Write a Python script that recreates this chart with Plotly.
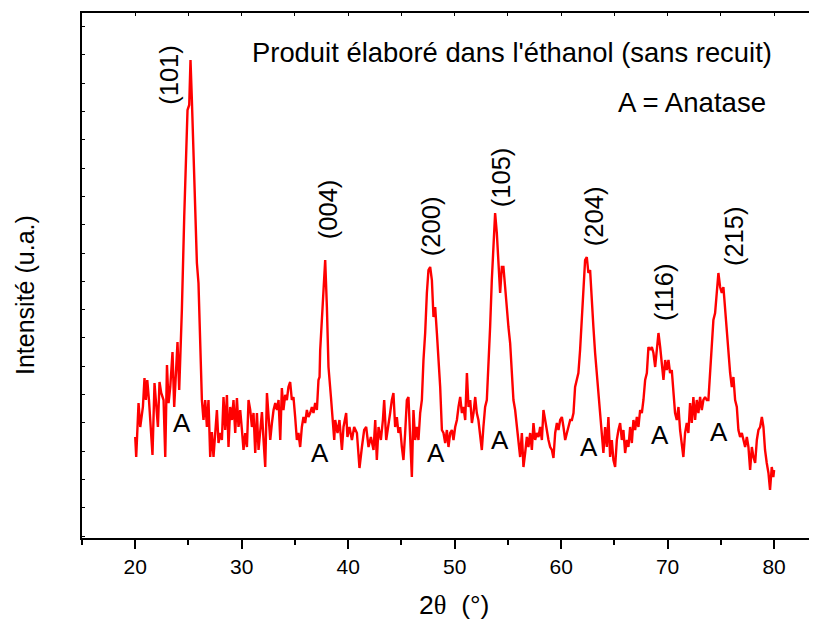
import plotly.graph_objects as go

# 2-theta (degrees) and intensity (arbitrary units)
two_theta = [
    20.00, 20.09, 20.31, 20.47, 20.72, 20.87, 21.00, 21.13, 21.29, 21.47, 21.62, 21.81, 21.97, 22.13, 22.28,
    22.44, 22.66, 22.82, 22.98, 23.13, 23.29, 23.50, 23.66, 23.82, 23.97, 24.13, 24.25,
    24.38, 24.60, 24.79, 24.91, 25.07, 25.19, 25.32, 25.47, 25.63, 25.79, 25.94, 26.10, 26.26, 26.41,
    26.57, 26.73, 26.88, 27.04, 27.20, 27.35, 27.51, 27.67, 27.82, 27.98, 28.14, 28.29, 28.45, 28.61, 28.76,
    28.92, 29.08, 29.23, 29.39, 29.55, 29.70, 29.86, 30.02, 30.17, 30.33, 30.49, 30.64, 30.80, 30.96, 31.11,
    31.27, 31.43, 31.58, 31.74, 31.90, 32.05, 32.21, 32.37, 32.52, 32.68, 32.84, 32.99, 33.15, 33.31, 33.46,
    33.62, 33.77, 33.92, 34.08, 34.24, 34.39, 34.55, 34.71, 34.86, 35.02, 35.18, 35.33, 35.49, 35.65, 35.80,
    35.96, 36.12, 36.27, 36.43, 36.59, 36.74, 36.90, 37.06, 37.21, 37.31, 37.37, 37.53, 37.68, 37.84, 38.00,
    38.15, 38.38, 38.56, 38.69, 38.78, 39.00, 39.18, 39.41, 39.56, 39.81, 39.93, 40.12, 40.35, 40.56, 40.82,
    41.06, 41.29, 41.50, 41.69, 41.91, 42.13, 42.38, 42.54, 42.69, 42.85, 43.07, 43.26, 43.38, 43.57, 43.78,
    43.94, 44.10, 44.25, 44.41, 44.57, 44.72, 44.88, 45.04, 45.19, 45.35, 45.51, 45.66, 45.82, 45.98, 46.13,
    46.29, 46.45, 46.60, 46.76, 46.92, 47.07, 47.23, 47.39, 47.54, 47.70, 47.86, 48.01, 48.17, 48.33, 48.48,
    48.64, 48.80, 48.95, 49.11, 49.27, 49.42, 49.58, 49.74, 49.89, 50.05, 50.21, 50.36, 50.52, 50.68, 50.83,
    50.99, 51.15, 51.30, 51.46, 51.62, 51.77, 51.93, 52.08, 52.23, 52.39, 52.55, 52.70, 52.86, 53.02, 53.17,
    53.33, 53.49, 53.64, 53.80, 53.96, 54.11, 54.27, 54.43, 54.58, 54.74, 54.90, 55.05, 55.21, 55.37, 55.52,
    55.68, 55.84, 55.99, 56.15, 56.31, 56.46, 56.62, 56.78, 56.93, 57.09, 57.25, 57.40, 57.56, 57.72, 57.87,
    58.03, 58.19, 58.34, 58.50, 58.66, 58.81, 58.97, 59.13, 59.28, 59.44, 59.60, 59.75, 59.91, 60.07, 60.22,
    60.38, 60.54, 60.69, 60.85, 61.01, 61.16, 61.31, 61.47, 61.62, 61.78, 61.94, 62.09, 62.25, 62.41, 62.56,
    62.72, 62.88, 63.03, 63.19, 63.35, 63.50, 63.66, 63.82, 63.97, 64.13, 64.29, 64.44, 64.60, 64.76, 64.91,
    65.07, 65.23, 65.38, 65.54, 65.70, 65.85, 66.01, 66.17, 66.32, 66.48, 66.64, 66.79, 66.95, 67.11, 67.26,
    67.42, 67.58, 67.73, 67.89, 68.05, 68.20, 68.36, 68.52, 68.67, 68.83, 68.99, 69.14, 69.30, 69.46, 69.61,
    69.77, 69.92, 70.08, 70.23, 70.39, 70.55, 70.70, 70.86, 71.02, 71.17, 71.33, 71.48, 71.64, 71.80, 71.95,
    72.11, 72.27, 72.42, 72.58, 72.74, 72.89, 73.05, 73.21, 73.36, 73.52, 73.68, 73.83, 73.99, 74.15, 74.30,
    74.46, 74.62, 74.77, 74.93, 75.09, 75.24, 75.40, 75.56, 75.71, 75.87, 76.03, 76.18, 76.34, 76.50, 76.65,
    76.81, 76.97, 77.12, 77.28, 77.44, 77.59, 77.75, 77.91, 78.06, 78.22, 78.38, 78.53, 78.69, 78.85, 79.00,
    79.15, 79.31, 79.47, 79.62, 79.78, 79.93, 80.00,
]
intensity = [
    99, 79, 133, 109, 129, 158, 136, 156, 136, 103, 81, 153, 126, 109, 154,
    143, 136, 79, 171, 133, 149, 184, 129, 169, 194, 146, 183,
    226, 319, 386, 426, 431, 476, 436, 376, 319, 273, 253, 186, 136, 116,
    136, 109, 136, 79, 104, 79, 109, 126, 93, 103, 96, 139, 106, 141, 89,
    129, 116, 136, 103, 138, 109, 126, 106, 86, 103, 89, 136, 126, 109, 123,
    83, 123, 86, 109, 124, 96, 69, 143, 119, 96, 113, 126, 133, 126, 136,
    96, 148, 126, 141, 136, 149, 154, 136, 139, 119, 96, 103, 89, 109, 119,
    113, 126, 119, 123, 129, 123, 133, 126, 156, 159, 186, 216, 246, 276, 229,
    169, 139, 116, 96, 116, 103, 116, 86, 109, 123, 99, 109, 96, 109, 103,
    68, 89, 106, 109, 89, 99, 86, 116, 76, 109, 96, 116, 136, 96, 109,
    123, 136, 143, 109, 119, 103, 109, 89, 76, 103, 136, 139, 103, 59, 126,
    96, 109, 96, 123, 136, 176, 203, 243, 266, 269, 256, 219, 229, 203, 176,
    149, 106, 103, 93, 106, 89, 103, 106, 96, 109, 116, 129, 139, 123, 129,
    116, 163, 129, 136, 113, 123, 139, 123, 116, 103, 86, 109, 129, 136, 169,
    209, 256, 286, 323, 303, 269, 243, 269, 269, 249, 223, 209, 193, 163, 136,
    126, 109, 93, 79, 103, 69, 83, 99, 89, 103, 86, 113, 96, 103, 99,
    109, 96, 126, 116, 103, 96, 89, 86, 78, 103, 113, 106, 116, 119, 109,
    96, 103, 109, 116, 116, 123, 149, 156, 163, 186, 213, 243, 276, 279, 263,
    266, 229, 209, 183, 163, 143, 129, 109, 83, 109, 89, 119, 79, 96, 76,
    69, 96, 106, 113, 96, 106, 83, 96, 89, 109, 93, 116, 106, 119, 109,
    126, 123, 136, 156, 163, 189, 186, 189, 183, 169, 189, 203, 189, 169, 156,
    176, 166, 176, 163, 166, 143, 123, 116, 129, 106, 89, 79, 103, 113, 103,
    133, 113, 139, 116, 136, 123, 139, 126, 136, 139, 136, 136, 166, 189, 216,
    223, 243, 263, 249, 243, 249, 226, 209, 189, 163, 149, 159, 136, 129, 106,
    99, 103, 96, 89, 99, 89, 66, 89, 79, 73, 96, 106, 109, 119, 109,
    86, 73, 63, 46, 69, 59, 66,
]

x_ticks = [20, 30, 40, 50, 60, 70, 80]

peak_labels = ["(101)", "(004)", "(200)", "(105)", "(204)", "(116)", "(215)"]
peak_label_x = [23.15, 38.12, 47.79, 54.37, 63.10, 69.67, 76.24]
peak_label_y = [461, 327, 310, 359, 320, 244, 300]

phase_label_x = [24.38, 37.31, 48.26, 54.27, 62.66, 69.30, 74.84]
phase_label_y = [113, 83, 83, 96, 89, 101, 104]

FONT = "Liberation Sans, Arial, sans-serif"

fig = go.Figure()
fig.add_trace(go.Scatter(
    x=two_theta, y=intensity, mode="lines",
    line=dict(color="#ff0000", width=2.4),
    showlegend=False, hoverinfo="skip",
))
# invisible trace for top axis
fig.add_trace(go.Scatter(x=[two_theta[0]], y=[intensity[0]], xaxis="x2", mode="lines",
                         line=dict(width=0), showlegend=False, hoverinfo="skip"))

annotations = []
for t, x, y in zip(peak_labels, peak_label_x, peak_label_y):
    annotations.append(dict(x=x, y=y, xref="x", yref="y", text=t, textangle=-90,
                            showarrow=False, font=dict(family=FONT, size=25.5, color="black"),
                            xanchor="center", yanchor="middle"))
for x, y in zip(phase_label_x, phase_label_y):
    annotations.append(dict(x=x, y=y, xref="x", yref="y", text="A",
                            showarrow=False, font=dict(family=FONT, size=26, color="black"),
                            xanchor="center", yanchor="middle"))
annotations.append(dict(x=55.4, y=484, xref="x", yref="y",
                        text="Produit élaboré dans l'éthanol (sans recuit)",
                        showarrow=False, font=dict(family=FONT, size=27.4, color="black"),
                        xanchor="center", yanchor="middle"))
annotations.append(dict(x=72.3, y=434, xref="x", yref="y", text="A = Anatase",
                        showarrow=False, font=dict(family=FONT, size=27.6, color="black"),
                        xanchor="center", yanchor="middle"))
annotations.append(dict(x=(25 - 82) / 735, y=(538 - 295) / 525, xref="paper", yref="paper",
                        text="Intensité (u.a.)", textangle=-90, showarrow=False,
                        font=dict(family=FONT, size=25, color="black"),
                        xanchor="center", yanchor="middle"))
annotations.append(dict(x=(454 - 82) / 735, y=(538 - 605) / 525, xref="paper", yref="paper",
                        text="2<span style='font-family:Liberation Serif'>θ</span>\u00a0\u00a0(°)",
                        showarrow=False, font=dict(family=FONT, size=26.5, color="black"),
                        xanchor="center", yanchor="middle"))

# the page body adds an 8 px offset; the figure is sized so the plot frame
# lands at x 82..817, y 13..538 in the window
fig.update_layout(
    width=809, height=611,
    margin=dict(l=74, r=0, t=5, b=81),
    paper_bgcolor="white", plot_bgcolor="white",
    annotations=annotations,
    xaxis=dict(
        range=[15, 84.03], tickmode="array", tickvals=x_ticks,
        ticktext=[str(v) for v in x_ticks],
        ticks="outside", ticklen=9, tickwidth=2, tickcolor="black",
        minor=dict(dtick=5, tick0=0, ticks="outside", ticklen=5, tickwidth=2, tickcolor="black"),
        showline=True, linewidth=2, linecolor="black", showgrid=False, zeroline=False,
        tickfont=dict(family=FONT, size=21, color="black"),
    ),
    xaxis2=dict(
        range=[15, 84.03], overlaying="x", side="top",
        tickmode="linear", tick0=0, dtick=5,
        ticks="inside", ticklen=3, tickwidth=1, tickcolor="black",
        showline=True, linewidth=2, linecolor="black", showgrid=False, zeroline=False,
        showticklabels=False,
    ),
    yaxis=dict(
        range=[-2, 523], tickmode="linear", tick0=0, dtick=28.3,
        ticks="inside", ticklen=3, tickwidth=1, tickcolor="black",
        showline=True, linewidth=2, linecolor="black", showgrid=False, zeroline=False,
        showticklabels=False,
    ),
)

fig.write_html("out.html")
